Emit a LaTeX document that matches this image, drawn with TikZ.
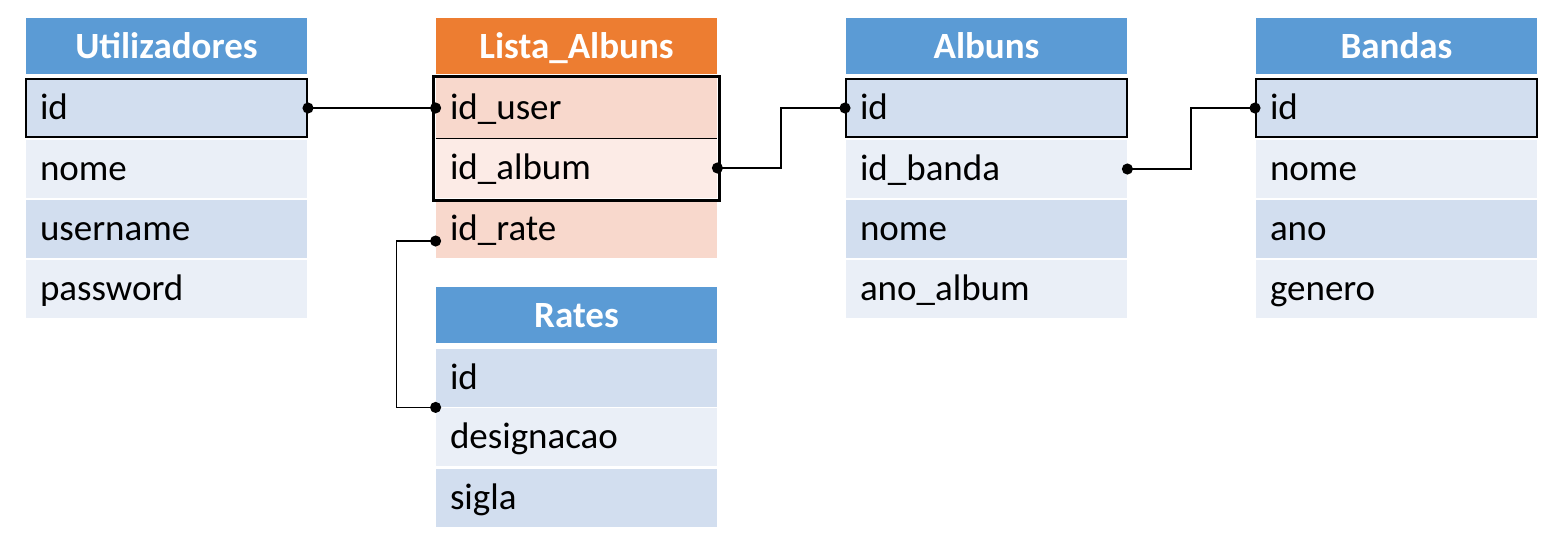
\documentclass[tikz,border=0pt]{standalone}
\usepackage{fontspec}
\setmainfont{Carlito}
\usepackage{tikz}
\usetikzlibrary{calc,arrows.meta}

\definecolor{hblue}{HTML}{5B9BD5}
\definecolor{horange}{HTML}{ED7D31}
\definecolor{rowdark}{HTML}{D2DEEF}
\definecolor{rowlight}{HTML}{EAEFF7}
\definecolor{odark}{HTML}{F8D8CC}
\definecolor{olight}{HTML}{FCEBE6}

\tikzset{
  field/.style={text width=126.5pt, inner xsep=7pt, inner ysep=0pt,
    text height=14pt, text depth=3pt,
    minimum height=29pt, align=left, font=\fontsize{18.5}{20}\selectfont},
  head/.style={field, align=center, text=white, minimum height=28pt,
    text height=15.6pt, text depth=3pt,
    font=\fontsize{18.5}{20}\selectfont\bfseries},
  keyrow/.style={draw=black, line width=1pt},
  link/.style={line width=0.8pt, {Circle[length=5.5pt]}-{Circle[length=5.5pt]},
    shorten <=-2.75pt, shorten >=-2.75pt}
}

\begin{document}
\begin{tikzpicture}[x=0.5pt,y=-0.5pt]
  \useasboundingbox (0,0) rectangle (1562,542);

  \node[head, fill=hblue] (uh) at (166.5,46) {Utilizadores};
  \node[field, fill=rowdark, keyrow] (u1) at (166.5,108) {id};
  \node[field, fill=rowlight] (u2) at (166.5,169) {nome};
  \node[field, fill=rowdark] (u3) at (166.5,229) {username};
  \node[field, fill=rowlight] (u4) at (166.5,289) {password};

  \node[head, fill=horange] (lh) at (576.5,46) {Lista\_Albuns};
  \node[field, fill=odark, minimum height=30pt] (l1) at (576.5,108) {id\_user};
  \node[field, fill=olight, minimum height=30pt] (l2) at (576.5,168) {id\_album};
  \node[field, fill=odark] (l3) at (576.5,229) {id\_rate};
  \draw[line width=0.7pt] (l1.south west) -- (l1.south east);
  \draw[line width=1.6pt] ($(l1.north west)+(-2,-1)$) rectangle ($(l2.south east)+(2,2)$);

  \node[head, fill=hblue] (rh) at (576.5,315) {Rates};
  \node[field, fill=rowdark] (r1) at (576.5,378) {id};
  \node[field, fill=rowlight] (r2) at (576.5,437) {designacao};
  \node[field, fill=rowdark] (r3) at (576.5,498) {sigla};

  \node[head, fill=hblue] (ah) at (986.5,46) {Albuns};
  \node[field, fill=rowdark, keyrow] (a1) at (986.5,108) {id};
  \node[field, fill=rowlight] (a2) at (986.5,169) {id\_banda};
  \node[field, fill=rowdark] (a3) at (986.5,229) {nome};
  \node[field, fill=rowlight] (a4) at (986.5,289) {ano\_album};

  \node[head, fill=hblue] (bh) at (1396.5,46) {Bandas};
  \node[field, fill=rowdark, keyrow] (b1) at (1396.5,108) {id};
  \node[field, fill=rowlight] (b2) at (1396.5,169) {nome};
  \node[field, fill=rowdark] (b3) at (1396.5,229) {ano};
  \node[field, fill=rowlight] (b4) at (1396.5,289) {genero};

  \draw[link] (u1.east) -- (l1.west);
  \draw[link] (l2.east) -| ($(l2.east)!0.5!(a1.west)$) |- (a1.west);
  \draw[link] (a2.east) -| ($(a2.east)!0.5!(b1.west)$) |- (b1.west);
  \draw[link] ($(l3.west)+(0,12)$) -- ++(-39,0) |- (r1.south west);
\end{tikzpicture}
\end{document}
